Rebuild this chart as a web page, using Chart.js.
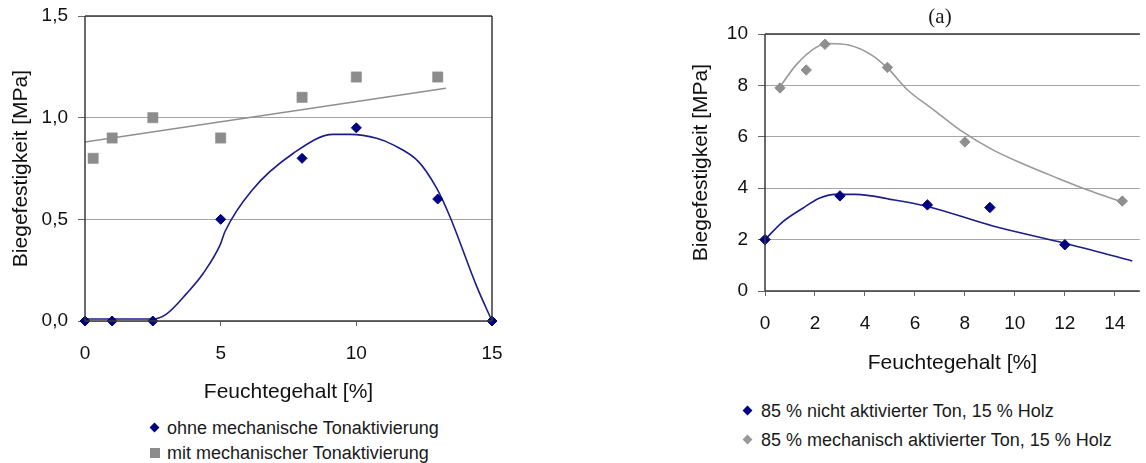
<!DOCTYPE html>
<html>
<head>
<meta charset="utf-8">
<script src="https://cdn.jsdelivr.net/npm/chart.js@4.4.1/dist/chart.umd.min.js"></script>
<style>
  html, body { margin: 0; padding: 0; background: #fff; }
  body { width: 1146px; height: 463px; position: relative; overflow: hidden; font-family: "Liberation Sans", Arial, sans-serif; color: #1a1a1a; }
  #c1 { position: absolute; left: 0; top: 0; }
  #c2 { position: absolute; left: 640px; top: 0; }
  .title { position: absolute; left: 900px; width: 80px; top: 3px; text-align: center; font-family: "Liberation Serif", "Times New Roman", serif; font-size: 21px; line-height: 26px; }
  .leg { position: absolute; font-size: 18px; line-height: 22px; white-space: nowrap; }
  .mk { position: absolute; }
  .dia { width: 7px; height: 7px; transform: rotate(45deg); }
  .sq { width: 10px; height: 10px; }
</style>
</head>
<body>
<canvas id="c1" width="520" height="410"></canvas>
<canvas id="c2" width="506" height="380"></canvas>
<div class="title">(a)</div>

<div class="mk dia" style="left:151px; top:424px; background:#000080"></div>
<div class="leg" style="left:167px; top:417px">ohne mechanische Tonaktivierung</div>
<div class="mk sq" style="left:150px; top:448px; background:#8c8c8c"></div>
<div class="leg" style="left:167px; top:442px">mit mechanischer Tonaktivierung</div>

<div class="mk dia" style="left:744px; top:407px; background:#000080"></div>
<div class="leg" style="left:761px; top:400px">85 % nicht aktivierter Ton, 15 % Holz</div>
<div class="mk dia" style="left:744px; top:436px; background:#999999"></div>
<div class="leg" style="left:761px; top:429px">85 % mechanisch aktivierter Ton, 15 % Holz</div>

<script>
// ---------- Left chart data ----------
const leftOhneX = [0, 1, 2.5, 5, 8, 10, 13, 15];
const leftOhneY = [0, 0, 0, 0.5, 0.8, 0.95, 0.6, 0];
const leftMitX = [0.3, 1, 2.5, 5, 8, 10, 13];
const leftMitY = [0.8, 0.9, 1.0, 0.9, 1.1, 1.2, 1.2];
const leftCurveX = [0, 2.5, 3.0, 3.75, 4.36, 4.98, 5.16, 6.14, 7.68, 9.15, 9.77, 10.75, 11.36, 12.29, 12.96, 13.45, 14.44, 15];
const leftCurveY = [0.01, 0.01, 0.034, 0.136, 0.235, 0.374, 0.44, 0.641, 0.825, 0.918, 0.918, 0.899, 0.866, 0.784, 0.653, 0.513, 0.169, 0];
const leftTrendX = [0, 13.3];
const leftTrendY = [0.88, 1.145];
const leftXTicks = [0, 5, 10, 15];
const leftYTicks = [0, 0.5, 1.0, 1.5];
const leftYTickLabels = ['0,0', '0,5', '1,0', '1,5'];

// ---------- Right chart data ----------
const rightNichtX = [0, 3, 6.5, 9, 12];
const rightNichtY = [2.0, 3.7, 3.35, 3.25, 1.8];
const rightMechX = [0.6, 1.65, 2.4, 4.9, 8.0, 14.3];
const rightMechY = [7.9, 8.6, 9.6, 8.7, 5.8, 3.5];
const rightMechCurveX = [0.59, 1.24, 2.03, 2.56, 3.35, 4.27, 4.92, 5.71, 6.76, 7.81, 9.12, 10.43, 11.74, 12.92, 14.28];
const rightMechCurveY = [7.93, 8.79, 9.47, 9.63, 9.57, 9.18, 8.66, 7.82, 7.04, 6.26, 5.49, 4.9, 4.38, 3.93, 3.47];
const rightNichtCurveX = [0, 0.72, 1.51, 2.17, 2.82, 3.61, 5.18, 6.54, 9.12, 12.0, 14.7];
const rightNichtCurveY = [2.0, 2.7, 3.22, 3.61, 3.76, 3.76, 3.54, 3.28, 2.53, 1.86, 1.17];
const rightXTicks = [0, 2, 4, 6, 8, 10, 12, 14];
const rightYTicks = [0, 2, 4, 6, 8, 10];

const zip = (xs, ys) => xs.map((x, i) => ({x: x, y: ys[i]}));
const FONT = "'Liberation Sans', Arial, sans-serif";
const NAVY = '#000080';
const GREY = '#8c8c8c';

function boxPlugin(sides) {
  return {
    id: 'box',
    afterDatasetsDraw(chart) {
      const a = chart.chartArea, c = chart.ctx;
      c.save();
      c.strokeStyle = '#3a3a3a';
      c.lineWidth = 1.5;
      c.beginPath();
      if (sides.top) { c.moveTo(a.left, a.top); c.lineTo(a.right, a.top); }
      if (sides.right) { c.moveTo(a.right, a.top); c.lineTo(a.right, a.bottom); }
      if (sides.bottom) { c.moveTo(a.left, a.bottom); c.lineTo(a.right, a.bottom); }
      if (sides.left) { c.moveTo(a.left, a.top); c.lineTo(a.left, a.bottom); }
      c.stroke();
      c.restore();
    },
    beforeDatasetsDraw(chart) {}
  };
}

function makeScales(o) {
  return {
    x: {
      type: 'linear', min: o.xmin, max: o.xmax,
      afterBuildTicks: s => { s.ticks = o.xTicks.map(v => ({value: v})); },
      afterFit: s => { s.height = o.xHeight; s.paddingLeft = 0; s.paddingRight = 0; },
      ticks: { color: '#111', font: {family: FONT, size: 19}, padding: 16, maxRotation: 0, autoSkip: false,
               callback: v => String(v) },
      grid: { drawOnChartArea: false, tickLength: 5, color: '#666', tickColor: '#666' },
      border: { display: false },
      title: { display: true, text: 'Feuchtegehalt [%]', color: '#111', font: {family: FONT, size: 21}, padding: {top: 0, bottom: o.xTitlePad} }
    },
    y: {
      type: 'linear', min: o.ymin, max: o.ymax,
      afterBuildTicks: s => { s.ticks = o.yTicks.map(v => ({value: v})); },
      afterFit: s => { s.width = o.yWidth; s.paddingTop = 0; s.paddingBottom = 0; },
      ticks: { color: '#111', font: {family: FONT, size: 19}, padding: 10, autoSkip: false,
               callback: (v) => o.yLabels ? o.yLabels[o.yTicks.indexOf(v)] : String(v) },
      grid: { color: '#a6a6a6', lineWidth: 1, tickLength: 7, tickColor: '#666' },
      border: { display: false },
      title: { display: true, text: 'Biegefestigkeit [MPa]', color: '#111', font: {family: FONT, size: 21}, padding: {top: o.yTitlePad, bottom: 0} }
    }
  };
}

const common = {
  responsive: false,
  animation: false,
  events: [],
  plugins: { legend: { display: false }, tooltip: { enabled: false }, title: { display: false } }
};

new Chart(document.getElementById('c1'), {
  type: 'scatter',
  data: {
    datasets: [
      { label: 'curve', data: zip(leftCurveX, leftCurveY), showLine: true, borderColor: '#1c1c8a', borderWidth: 1.6,
        pointRadius: 0, cubicInterpolationMode: 'monotone', clip: false, order: 3 },
      { label: 'trend', data: zip(leftTrendX, leftTrendY), showLine: true, borderColor: '#8f8f8f', borderWidth: 1.6,
        pointRadius: 0, order: 3 },
      { label: 'mit mechanischer Tonaktivierung', data: zip(leftMitX, leftMitY), pointStyle: 'rect', pointRadius: 7.3,
        backgroundColor: GREY, borderColor: GREY, borderWidth: 0.5, clip: false, order: 1 },
      { label: 'ohne mechanische Tonaktivierung', data: zip(leftOhneX, leftOhneY), pointStyle: 'rectRot', pointRadius: 5,
        backgroundColor: NAVY, borderColor: NAVY, borderWidth: 1, clip: false, order: 0 }
    ]
  },
  options: Object.assign({}, common, {
    layout: { padding: { left: 0, top: 16, right: 28, bottom: 0 } },
    scales: makeScales({ xmin: 0, xmax: 15, ymin: 0, ymax: 1.5, xTicks: leftXTicks, yTicks: leftYTicks,
      yLabels: leftYTickLabels, xHeight: 89, yWidth: 85, xTitlePad: 5, yTitlePad: 9 })
  }),
  plugins: [boxPlugin({top: true, right: true, bottom: true, left: true})]
});

new Chart(document.getElementById('c2'), {
  type: 'scatter',
  data: {
    datasets: [
      { label: 'mechCurve', data: zip(rightMechCurveX, rightMechCurveY), showLine: true, borderColor: '#999999', borderWidth: 1.6,
        pointRadius: 0, cubicInterpolationMode: 'monotone', order: 3 },
      { label: 'nichtCurve', data: zip(rightNichtCurveX, rightNichtCurveY), showLine: true, borderColor: '#1c1c8a', borderWidth: 1.6,
        pointRadius: 0, cubicInterpolationMode: 'monotone', order: 3 },
      { label: '85 % mechanisch aktivierter Ton, 15 % Holz', data: zip(rightMechX, rightMechY), pointStyle: 'rectRot', pointRadius: 5.2,
        backgroundColor: '#8f8f8f', borderColor: '#8f8f8f', borderWidth: 1, clip: false, order: 1 },
      { label: '85 % nicht aktivierter Ton, 15 % Holz', data: zip(rightNichtX, rightNichtY), pointStyle: 'rectRot', pointRadius: 5.2,
        backgroundColor: NAVY, borderColor: NAVY, borderWidth: 1, clip: false, order: 0 }
    ]
  },
  options: Object.assign({}, common, {
    layout: { padding: { left: 0, top: 34, right: 0, bottom: 0 } },
    scales: makeScales({ xmin: 0, xmax: 15, ymin: 0, ymax: 10, xTicks: rightXTicks, yTicks: rightYTicks,
      yLabels: null, xHeight: 89, yWidth: 125, xTitlePad: 4, yTitlePad: 49 })
  }),
  plugins: [boxPlugin({top: true, right: false, bottom: true, left: true})]
});
</script>
</body>
</html>
